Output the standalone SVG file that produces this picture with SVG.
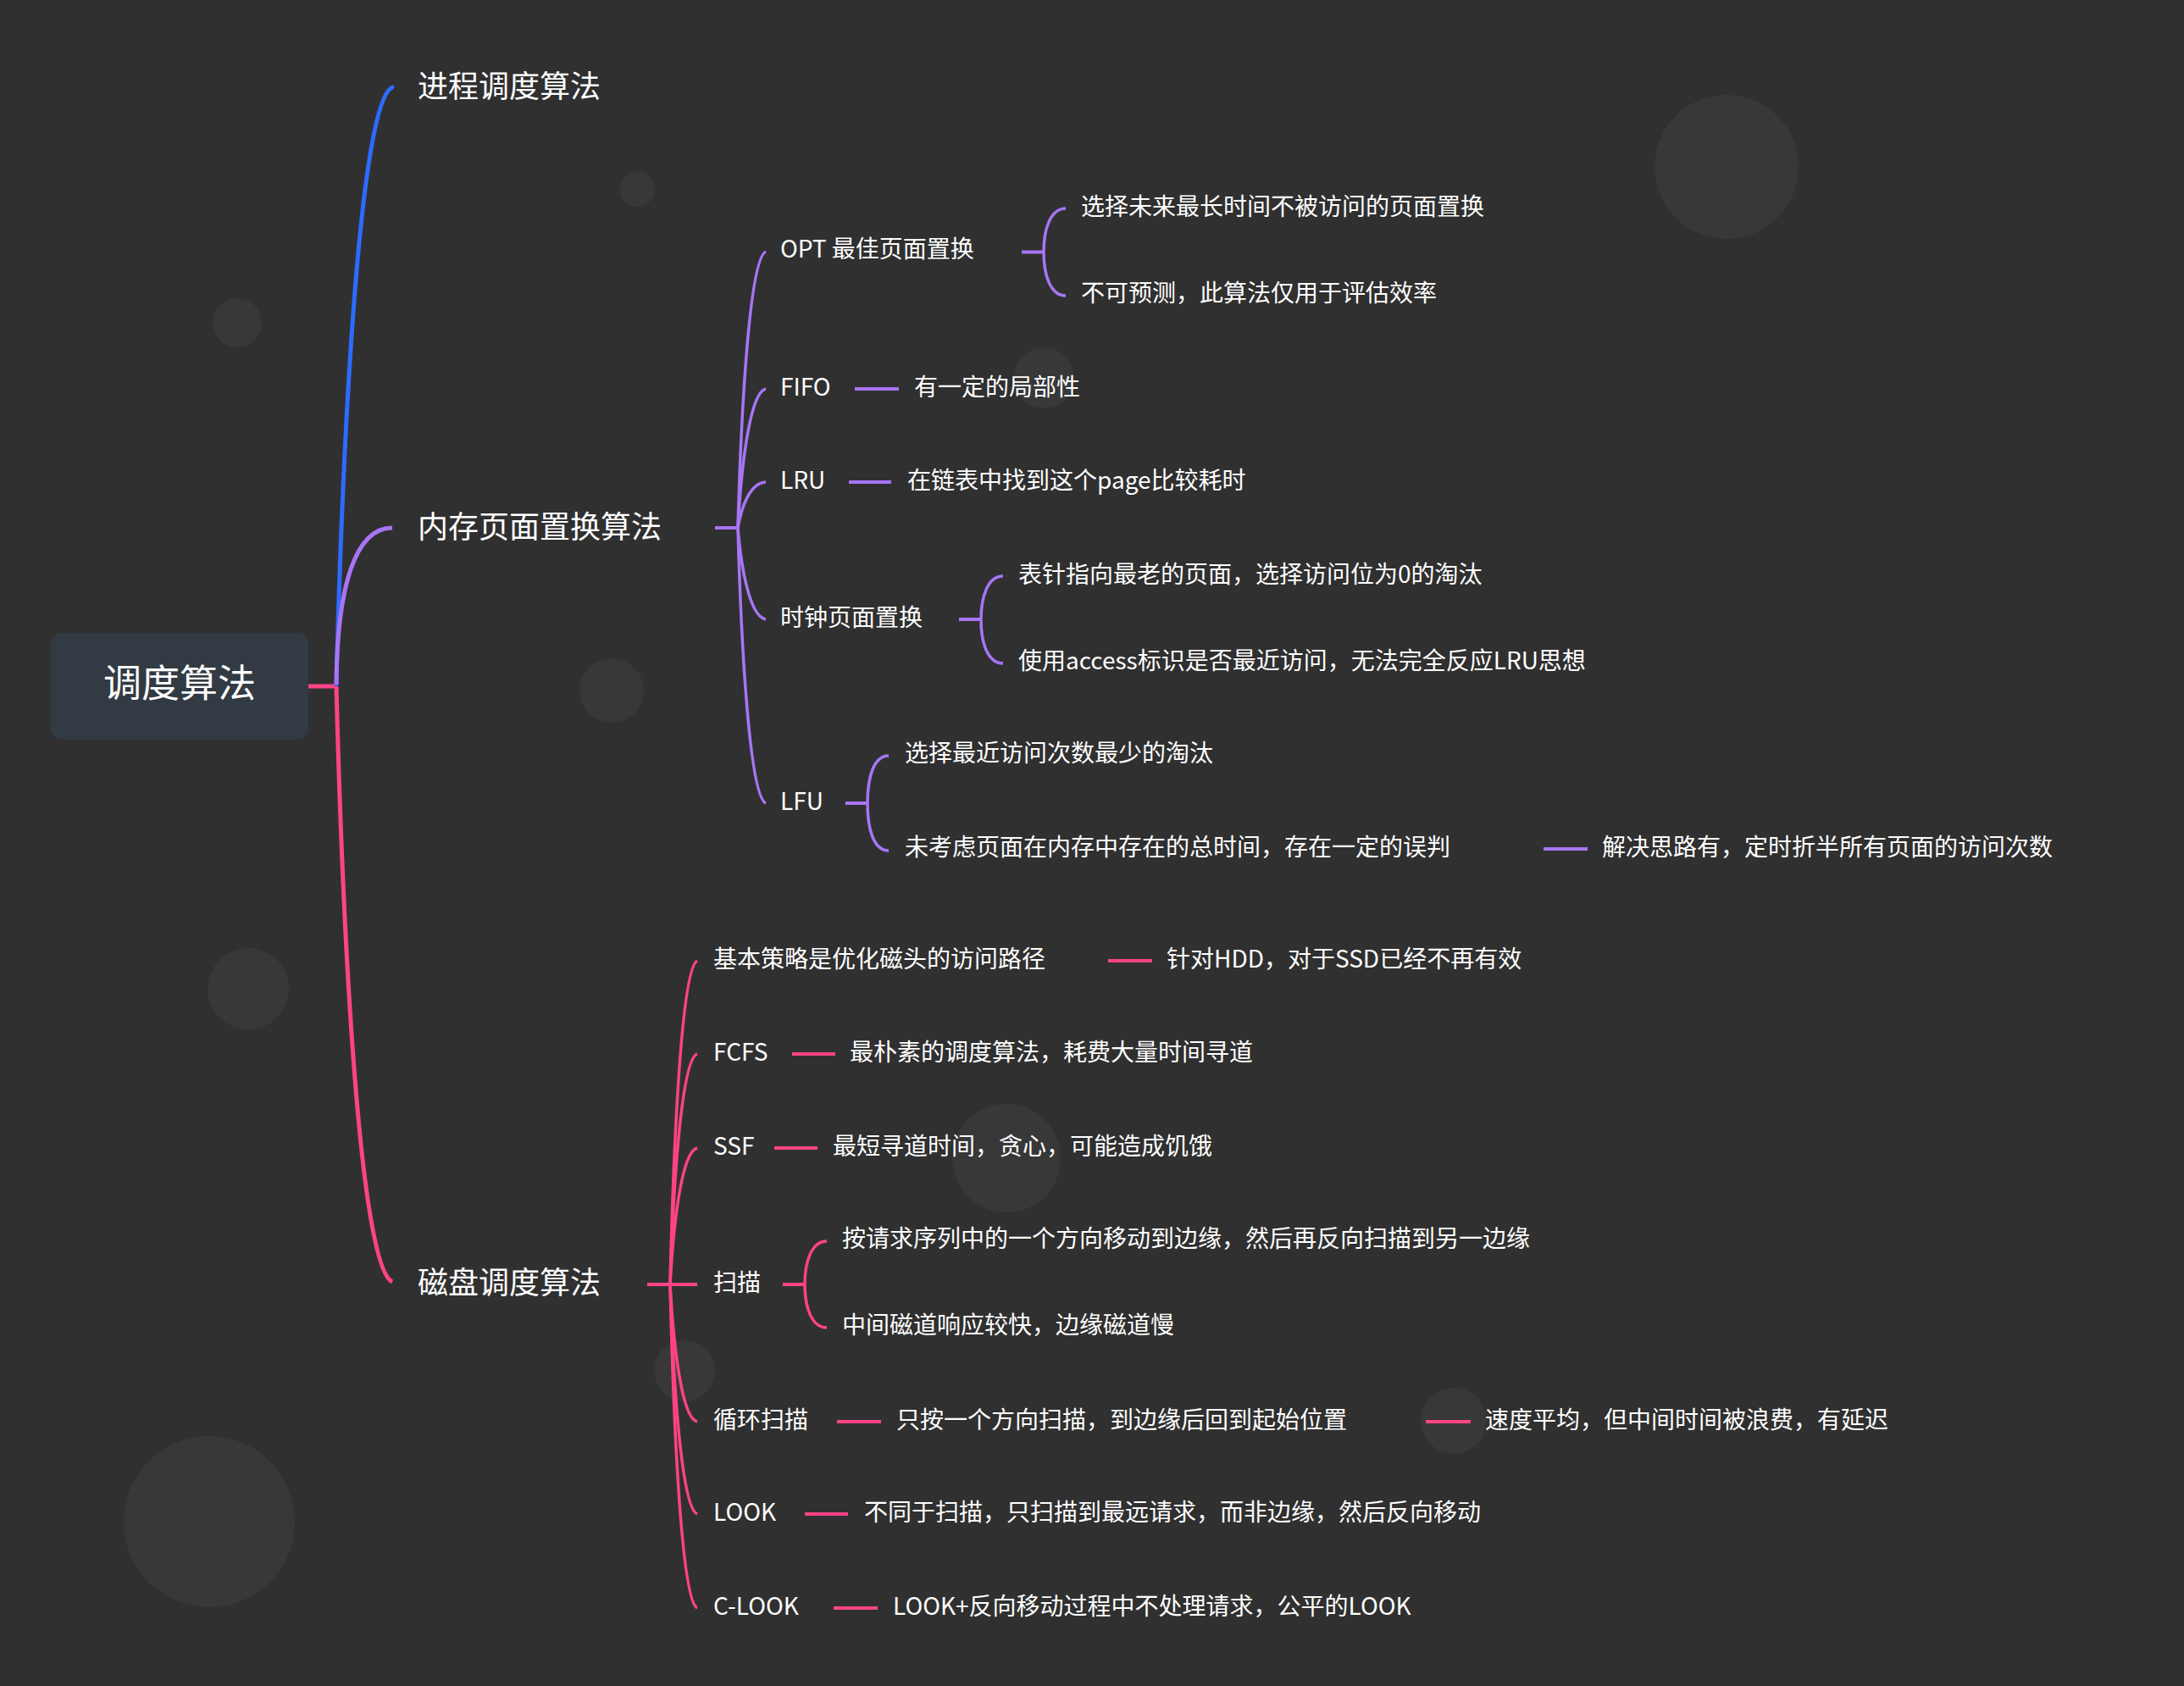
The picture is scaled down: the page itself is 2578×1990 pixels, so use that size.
<svg xmlns="http://www.w3.org/2000/svg" width="2578" height="1990" viewBox="0 0 2578 1990">
<style>
text{font-family:"Noto Sans CJK SC","Noto Sans",sans-serif;fill:#ffffff}
.root{font-size:45px}
.l2{font-size:36px}
.l3{font-size:28px}
.deco{fill:#383838}
.b{stroke:#2d6bff;fill:none;stroke-linecap:round}
.p{stroke:#a775f6;fill:none;stroke-linecap:butt}
.k{stroke:#ff4386;fill:none;stroke-linecap:butt}
.main{stroke-width:5}
.sub{stroke-width:3.5}
.stub{stroke-width:4}
</style>
<rect x="0" y="0" width="2578" height="1990" fill="#303030"/>
<g id="background">
<circle class="deco" cx="2038" cy="197" r="85"/>
<circle class="deco" cx="752" cy="223" r="21"/>
<circle class="deco" cx="280" cy="381" r="29"/>
<circle class="deco" cx="1232" cy="446" r="36"/>
<circle class="deco" cx="722" cy="815" r="38"/>
<circle class="deco" cx="293" cy="1167" r="48"/>
<circle class="deco" cx="1188" cy="1367" r="64"/>
<circle class="deco" cx="808" cy="1618" r="36"/>
<circle class="deco" cx="1716" cy="1677" r="39"/>
<circle class="deco" cx="247" cy="1796" r="101"/>
</g>
<g id="connectors">
<!-- root to level 2 -->
<path class="k main" d="M364,810 L397,810"/>
<path class="b main" d="M397,808 C405,500 425,120 463,103"/>
<path class="p main" d="M397,808 C398,690 420,623 463,623"/>
<path class="k main" d="M397,810 C405,1118 425,1496 463,1513"/>
<!-- memory subtree -->
<path class="p stub" d="M844,623 L871,623"/>
<path class="p sub" d="M871,623 C875,479 885,305 904,297"/>
<path class="p sub" d="M871,623 C875,551 885,463 904,459"/>
<path class="p sub" d="M871,623 C875,599 885,570 904,569"/>
<path class="p sub" d="M871,623 C875,671 885,728 904,731"/>
<path class="p sub" d="M871,623 C875,766 885,940 904,948"/>
<path class="p stub" d="M1206,297.5 L1232,297.5"/>
<path class="p sub" d="M1258,246 C1240,246 1232,270 1232,297.5 C1232,325 1240,349 1258,349"/>
<path class="p stub" d="M1009,459 L1061,459"/>
<path class="p stub" d="M1002,569 L1052,569"/>
<path class="p stub" d="M1132,731 L1158,731"/>
<path class="p sub" d="M1184,680 C1166,680 1158,704 1158,731.5 C1158,759 1166,783 1184,783"/>
<path class="p stub" d="M998,948 L1024,948"/>
<path class="p sub" d="M1049,892 C1031,892 1024,918 1024,948 C1024,978 1031,1004 1049,1004"/>
<path class="p stub" d="M1822,1002 L1874,1002"/>
<!-- disk subtree -->
<path class="k stub" d="M764,1516 L791,1516"/>
<path class="k sub" d="M791,1516 C795,1348 804.5,1143 823,1134"/>
<path class="k sub" d="M791,1516 C795,1396 804.5,1250 823,1244"/>
<path class="k sub" d="M791,1516 C795,1445 804.5,1359 823,1355"/>
<path class="k stub" d="M791,1516 L823,1516"/>
<path class="k sub" d="M791,1516 C795,1587 804.5,1674 823,1678"/>
<path class="k sub" d="M791,1516 C795,1635 804.5,1780 823,1787"/>
<path class="k sub" d="M791,1516 C795,1684 804.5,1889 823,1898"/>
<path class="k stub" d="M1308,1134 L1360,1134"/>
<path class="k stub" d="M935,1244 L986,1244"/>
<path class="k stub" d="M914,1355 L965,1355"/>
<path class="k stub" d="M924,1516 L950,1516"/>
<path class="k sub" d="M976,1465 C958,1465 950,1489 950,1516 C950,1543 958,1567 976,1567"/>
<path class="k stub" d="M988,1678 L1040,1678"/>
<path class="k stub" d="M1683,1678 L1736,1678"/>
<path class="k stub" d="M950,1787 L1001,1787"/>
<path class="k stub" d="M984,1898 L1036,1898"/>
</g>
<g id="root">
<rect x="60" y="747" width="304" height="126" rx="13" fill="#323a43"/>
<text class="root" x="212" y="823" text-anchor="middle">调度算法</text>
</g>
<g id="n-process"><text class="l2" x="493" y="115">进程调度算法</text></g>
<g id="n-memory"><text class="l2" x="493" y="635">内存页面置换算法</text></g>
<g id="n-disk"><text class="l2" x="493" y="1527">磁盘调度算法</text></g>
<g id="n-opt"><text class="l3" x="921" y="304">OPT 最佳页面置换</text></g>
<g id="n-opt-1"><text class="l3" x="1276" y="254">选择未来最长时间不被访问的页面置换</text></g>
<g id="n-opt-2"><text class="l3" x="1276" y="356">不可预测，此算法仅用于评估效率</text></g>
<g id="n-fifo"><text class="l3" x="921" y="467">FIFO</text></g>
<g id="n-fifo-1"><text class="l3" x="1079" y="467">有一定的局部性</text></g>
<g id="n-lru"><text class="l3" x="921" y="577">LRU</text></g>
<g id="n-lru-1"><text class="l3" x="1071" y="577">在链表中找到这个page比较耗时</text></g>
<g id="n-clock"><text class="l3" x="921" y="739">时钟页面置换</text></g>
<g id="n-clock-1"><text class="l3" x="1202" y="688">表针指向最老的页面，选择访问位为0的淘汰</text></g>
<g id="n-clock-2"><text class="l3" x="1202" y="790">使用access标识是否最近访问，无法完全反应LRU思想</text></g>
<g id="n-lfu"><text class="l3" x="921" y="956">LFU</text></g>
<g id="n-lfu-1"><text class="l3" x="1068" y="899">选择最近访问次数最少的淘汰</text></g>
<g id="n-lfu-2"><text class="l3" x="1068" y="1010">未考虑页面在内存中存在的总时间，存在一定的误判</text></g>
<g id="n-lfu-2-1"><text class="l3" x="1891" y="1010">解决思路有，定时折半所有页面的访问次数</text></g>
<g id="n-basic"><text class="l3" x="842" y="1142">基本策略是优化磁头的访问路径</text></g>
<g id="n-basic-1"><text class="l3" x="1377" y="1142">针对HDD，对于SSD已经不再有效</text></g>
<g id="n-fcfs"><text class="l3" x="842" y="1252">FCFS</text></g>
<g id="n-fcfs-1"><text class="l3" x="1003" y="1252">最朴素的调度算法，耗费大量时间寻道</text></g>
<g id="n-ssf"><text class="l3" x="842" y="1363">SSF</text></g>
<g id="n-ssf-1"><text class="l3" x="983" y="1363">最短寻道时间，贪心，可能造成饥饿</text></g>
<g id="n-scan"><text class="l3" x="842" y="1524">扫描</text></g>
<g id="n-scan-1"><text class="l3" x="994" y="1472">按请求序列中的一个方向移动到边缘，然后再反向扫描到另一边缘</text></g>
<g id="n-scan-2"><text class="l3" x="994" y="1574">中间磁道响应较快，边缘磁道慢</text></g>
<g id="n-cscan"><text class="l3" x="842" y="1686">循环扫描</text></g>
<g id="n-cscan-1"><text class="l3" x="1058" y="1686">只按一个方向扫描，到边缘后回到起始位置</text></g>
<g id="n-cscan-1-1"><text class="l3" x="1753" y="1686">速度平均，但中间时间被浪费，有延迟</text></g>
<g id="n-look"><text class="l3" x="842" y="1795">LOOK</text></g>
<g id="n-look-1"><text class="l3" x="1020" y="1795">不同于扫描，只扫描到最远请求，而非边缘，然后反向移动</text></g>
<g id="n-clook"><text class="l3" x="842" y="1906">C-LOOK</text></g>
<g id="n-clook-1"><text class="l3" x="1054" y="1906">LOOK+反向移动过程中不处理请求，公平的LOOK</text></g>
</svg>
